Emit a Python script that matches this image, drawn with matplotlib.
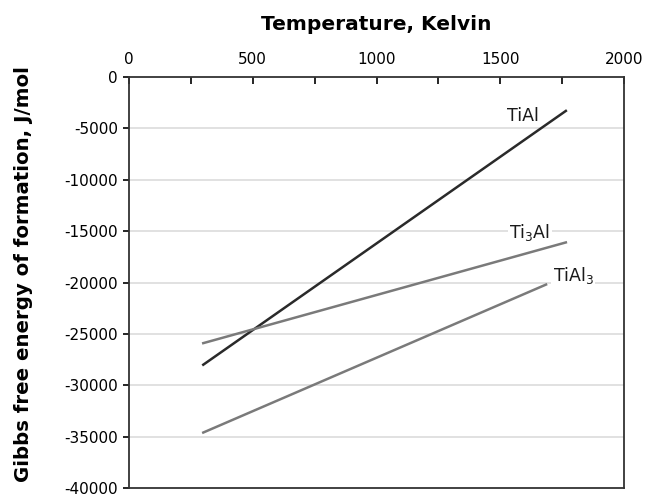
import matplotlib
matplotlib.use("Agg")
import matplotlib.pyplot as plt
from matplotlib.ticker import MultipleLocator

plt.rcParams['font.family'] = ['DejaVu Sans']

temps_TiAl = [300, 1765]
gibbs_TiAl = [-28000, -3300]
temps_Ti3Al = [300, 1765]
gibbs_Ti3Al = [-25900, -16100]
temps_TiAl3 = [300, 1685]
gibbs_TiAl3 = [-34600, -20200]

xticks = [0, 500, 1000, 1500, 2000]
yticks = [0, -5000, -10000, -15000, -20000, -25000, -30000, -35000, -40000]

fig = plt.figure(figsize=(6.5, 4.99), dpi=100)
ax = fig.add_axes([0.1985, 0.022, 0.7615, 0.8237])

for y in yticks[1:-1]:
    ax.axhline(y, color='#dcdcdc', lw=1.2, zorder=0)

ax.plot(temps_TiAl, gibbs_TiAl, color='#2a2a2a', lw=1.8)
ax.plot(temps_Ti3Al, gibbs_Ti3Al, color='#7a7a7a', lw=1.8)
ax.plot(temps_TiAl3, gibbs_TiAl3, color='#7a7a7a', lw=1.8)

lbl = dict(fontsize=12.5, ha='center', va='center', color='#1a1a1a',
           bbox=dict(facecolor='white', edgecolor='none', pad=1))
ax.text(1590, -3800, 'TiAl', **lbl)
ax.text(1620, -15100, 'Ti$_3$Al', **lbl)
ax.text(1795, -19300, 'TiAl$_3$', **lbl)

ax.set_xlim(0, 2000)
ax.set_ylim(-40000, 0)
ax.xaxis.tick_top()
ax.xaxis.set_label_position('top')
ax.set_xticks(xticks)
ax.set_xticklabels([str(t) for t in xticks])
ax.xaxis.set_minor_locator(MultipleLocator(250))
ax.set_yticks(yticks)
ax.set_yticklabels([str(t) for t in yticks])
ax.tick_params(axis='x', which='both', direction='in', length=5, width=1.2, labelsize=11, pad=7)
ax.tick_params(axis='y', direction='out', length=4, width=1.2, labelsize=11, pad=4)
ax.set_xlabel('Temperature, Kelvin', fontsize=14.5, fontweight='bold', labelpad=16)
ax.set_ylabel('Gibbs free energy of formation, J/mol', fontsize=14.2, fontweight='bold')
ax.yaxis.set_label_coords(-0.194, 0.52)
for s in ax.spines.values():
    s.set_linewidth(1.3)
    s.set_color('#333333')

fig.savefig('out.png', dpi=100)
